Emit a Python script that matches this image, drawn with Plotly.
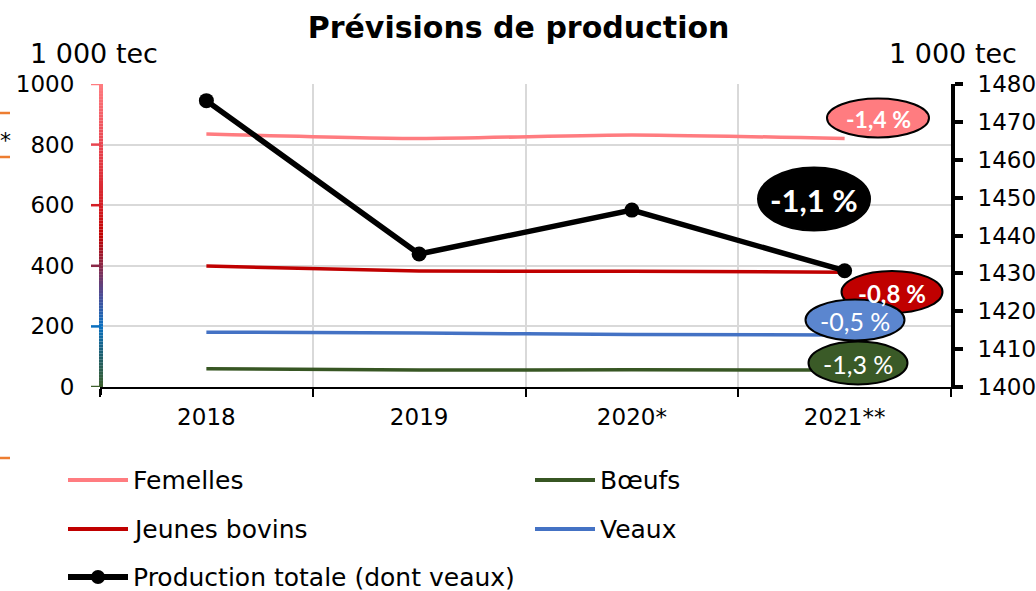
import plotly.graph_objects as go

# ---- data -------------------------------------------------------------
years = ["2018", "2019", "2020*", "2021**"]
femelles = [835, 820, 832, 820]
jeunes_bovins = [399, 383, 382, 379]
veaux = [181, 178, 173, 172]
boeufs = [60, 56, 57, 56]
production_totale = [1475.6, 1435.1, 1446.7, 1430.7]

series_names = ["Femelles", "Bœufs", "Jeunes bovins", "Veaux",
                "Production totale (dont veaux)"]
variations = ["-1,4 %", "-1,1 %", "-0,8 %", "-0,5 %", "-1,3 %"]

# ---- style ------------------------------------------------------------
C_FEM = "#FF7C80"
C_JB = "#C00000"
C_VEAUX = "#4472C4"
C_BOEUFS = "#375623"
C_TOTAL = "#000000"
GRID = "#D9D9D9"
FONT = "DejaVu Sans"
LABEL_FONT = "Lato"

W, H = 1036, 591
L, R, T, B = 100, 85, 84, 204
PW, PH = W - L - R, H - T - B


def px(x):
    """pixel column -> paper x"""
    return (x - L) / PW


def py(y):
    """pixel row -> paper y"""
    return (H - B - y) / PH


fig = go.Figure()

for name, vals, col in [("Femelles", femelles, C_FEM),
                        ("Jeunes bovins", jeunes_bovins, C_JB),
                        ("Veaux", veaux, C_VEAUX),
                        ("Bœufs", boeufs, C_BOEUFS)]:
    fig.add_trace(go.Scatter(
        x=years, y=vals, name=name, mode="lines",
        line=dict(color=col, width=3.5, shape="spline", smoothing=0.6),
        showlegend=False, hoverinfo="x+y+name"))

fig.add_trace(go.Scatter(
    x=years, y=production_totale, name="Production totale (dont veaux)",
    mode="lines+markers", yaxis="y2",
    line=dict(color=C_TOTAL, width=5.5),
    marker=dict(color=C_TOTAL, size=15),
    showlegend=False))

shapes = []
annotations = []

# gradient-coloured left axis line
stops = [(0, "#3D5F2C"), (100, "#1E5E6A"), (200, "#0A70C0"), (300, "#4A4E98"),
         (400, "#8A2848"), (500, "#C00000"), (600, "#D41F26"), (800, "#E84550"),
         (1000, "#FF7C80")]


def hex2rgb(h):
    return tuple(int(h[i:i + 2], 16) for i in (1, 3, 5))


def colour_at(v):
    for (v0, c0), (v1, c1) in zip(stops[:-1], stops[1:]):
        if v0 <= v <= v1:
            t = (v - v0) / (v1 - v0)
            a, b = hex2rgb(c0), hex2rgb(c1)
            r = [round(a[i] + (b[i] - a[i]) * t) for i in range(3)]
            return "rgb({},{},{})".format(*r)
    return stops[-1][1]


step = 10
for v in range(0, 1000, step):
    shapes.append(dict(type="line", xref="paper", yref="y",
                       x0=px(101), x1=px(101), y0=v, y1=v + step,
                       line=dict(color=colour_at(v + step / 2), width=4),
                       layer="above"))
for v in range(0, 1001, 200):
    shapes.append(dict(type="line", xref="paper", yref="y",
                       x0=px(91), x1=px(101), y0=v, y1=v,
                       line=dict(color=colour_at(v), width=2.5),
                       layer="above"))
# small tick under the left axis foot
shapes.append(dict(type="line", xref="paper", yref="paper",
                   x0=px(101), x1=px(101), y0=0, y1=py(395),
                   line=dict(color="black", width=2)))

# stray orange marks on the far left
for yy in (113, 157, 458):
    shapes.append(dict(type="line", xref="paper", yref="paper",
                       x0=px(0), x1=px(10), y0=py(yy), y1=py(yy),
                       line=dict(color="#ED7D31", width=2.5)))
annotations.append(dict(xref="paper", yref="paper", x=px(-2), y=py(140),
                        xanchor="left", yanchor="middle", showarrow=False,
                        text="*", font=dict(family=FONT, size=22, color="black")))

# variation bubbles: (cx, cy, w, h, fill, text, size, bold)
bubbles = [
    (878, 118, 102, 39, C_FEM, variations[0], 23, True),
    (814, 199, 112, 63, "#000000", variations[1], 31, True),
    (892, 292, 101, 42, C_JB, variations[2], 24, True),
    (855, 320, 99, 41, "#5B86CF", variations[3], 25, False),
    (858, 363, 99, 43, "#3A5A27", variations[4], 25, False),
]
for cx, cy, w, h, fill, txt, size, bold in bubbles:
    shapes.append(dict(type="circle", xref="paper", yref="paper",
                       x0=px(cx - w / 2), x1=px(cx + w / 2),
                       y0=py(cy + h / 2), y1=py(cy - h / 2),
                       fillcolor=fill, line=dict(color="black", width=2),
                       layer="above"))
    annotations.append(dict(xref="paper", yref="paper", x=px(cx), y=py(cy + 1),
                            xanchor="center", yanchor="middle", showarrow=False,
                            text=f"<b>{txt}</b>" if bold else txt,
                            font=dict(family=LABEL_FONT, size=size, color="white")))

# legend drawn by hand in two columns
legend_items = [
    (series_names[0], C_FEM, 68, 480, False),
    (series_names[1], C_BOEUFS, 535, 480, False),
    (series_names[2], C_JB, 68, 529, False),
    (series_names[3], C_VEAUX, 535, 529, False),
    (series_names[4], C_TOTAL, 68, 577, True),
]
for name, col, x0, yy, marker in legend_items:
    shapes.append(dict(type="line", xref="paper", yref="paper",
                       x0=px(x0), x1=px(x0 + 60), y0=py(yy), y1=py(yy),
                       line=dict(color=col, width=6 if marker else 4)))
    if marker:
        r = 7
        shapes.append(dict(type="circle", xref="paper", yref="paper",
                           x0=px(x0 + 30 - r), x1=px(x0 + 30 + r),
                           y0=py(yy + r), y1=py(yy - r),
                           fillcolor=col, line=dict(color=col, width=0)))
    annotations.append(dict(xref="paper", yref="paper", x=px(x0 + 63), y=py(yy),
                            xanchor="left", yanchor="middle", showarrow=False,
                            text=name, font=dict(family=FONT, size=25, color="black")))

# unit labels above both axes
annotations.append(dict(xref="paper", yref="paper", x=px(94), y=py(54),
                        xanchor="center", yanchor="middle", showarrow=False,
                        text="1 000 tec", font=dict(family=FONT, size=27, color="black")))
annotations.append(dict(xref="paper", yref="paper", x=px(953), y=py(54),
                        xanchor="center", yanchor="middle", showarrow=False,
                        text="1 000 tec", font=dict(family=FONT, size=27, color="black")))

fig.update_layout(
    width=W, height=H,
    margin=dict(l=L, r=R, t=T, b=B, autoexpand=False),
    paper_bgcolor="white", plot_bgcolor="white",
    font=dict(family=FONT, size=23, color="black"),
    title=dict(text="<b>Prévisions de production</b>", x=px(526), xanchor="center",
               y=1 - 27 / H, yanchor="middle",
               font=dict(family=FONT, size=30, color="black")),
    showlegend=False,
    xaxis=dict(type="category", categoryorder="array", categoryarray=years,
               range=[-0.5, 3.5], tickson="boundaries",
               showgrid=True, gridcolor=GRID, gridwidth=2,
               showline=True, linecolor="black", linewidth=2,
               ticks="outside", ticklen=8, tickwidth=2, tickcolor="black",
               ticklabelstandoff=8, automargin=False,
               tickfont=dict(family=FONT, size=23, color="black"),
               zeroline=False, fixedrange=True),
    yaxis=dict(range=[0, 1000], tickmode="array",
               tickvals=[0, 200, 400, 600, 800, 1000],
               ticktext=["0", "200", "400", "600", "800", "1000"],
               showgrid=True, gridcolor=GRID, gridwidth=2,
               showline=False, zeroline=False,
               ticks="outside", ticklen=8, tickcolor="rgba(0,0,0,0)",
               ticklabelstandoff=12, automargin=False,
               tickfont=dict(family=FONT, size=23, color="black"),
               fixedrange=True),
    yaxis2=dict(range=[1400, 1480], overlaying="y", side="right",
                tickmode="array",
                tickvals=[1400, 1410, 1420, 1430, 1440, 1450, 1460, 1470, 1480],
                showgrid=False, zeroline=False,
                showline=True, linecolor="black", linewidth=4,
                ticks="outside", ticklen=8, tickwidth=4, tickcolor="black",
                ticklabelstandoff=10, automargin=False,
                tickfont=dict(family=FONT, size=23, color="black"),
                fixedrange=True),
    shapes=shapes,
    annotations=annotations,
)

fig.write_html("out.html")
